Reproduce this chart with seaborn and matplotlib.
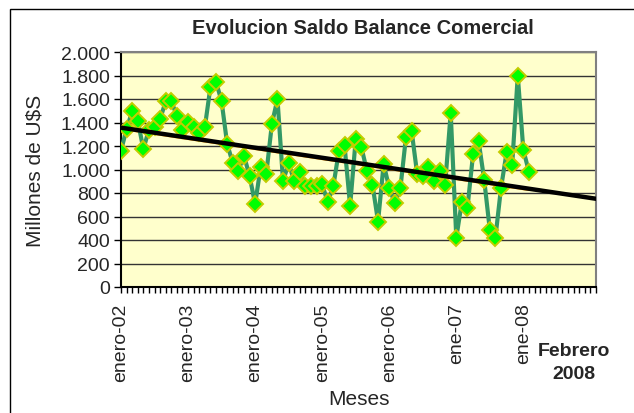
import numpy as np
import pandas as pd
import matplotlib
matplotlib.use("Agg")
import matplotlib.pyplot as plt
import matplotlib.transforms as mtransforms
from matplotlib.ticker import FuncFormatter, MultipleLocator
from matplotlib.patches import Rectangle
import seaborn as sns

# Monthly trade balance, Jan 2002 - Feb 2008 (millions of US$)
saldo_2002 = [1160, 1345, 1495, 1416, 1174, 1339, 1359, 1430, 1580, 1580, 1458, 1339]
saldo_2003 = [1407, 1359, 1311, 1359, 1700, 1748, 1580, 1217, 1055, 990, 1118, 947]
saldo_2004 = [706, 1024, 962, 1387, 1600, 900, 1055, 900, 981, 858, 858, 858]
saldo_2005 = [874, 721, 860, 1160, 1205, 692, 1257, 1193, 990, 871, 556, 1047]
saldo_2006 = [843, 712, 843, 1279, 1330, 962, 945, 1019, 905, 988, 872, 1481]
saldo_2007 = [420, 725, 676, 1130, 1240, 910, 486, 420, 842, 1145, 1040, 1800]
saldo_2008 = [1165, 981]

# Linear trend, extended one year beyond the last month
trend_x = [0, 85]
trend_y = [1356, 751]

tick_positions = [0, 12, 24, 36, 48, 60, 72]
tick_labels = ["enero-02", "enero-03", "enero-04", "enero-05", "enero-06", "ene-07", "ene-08"]

saldo = saldo_2002 + saldo_2003 + saldo_2004 + saldo_2005 + saldo_2006 + saldo_2007 + saldo_2008
df = pd.DataFrame({"mes": np.arange(len(saldo)), "saldo": saldo})
df_trend = pd.DataFrame({"mes": trend_x, "saldo": trend_y})
last = len(saldo) - 1
df_trend_obs = pd.DataFrame({"mes": [0, last],
                             "saldo": np.interp([0, last], trend_x, trend_y)})

sns.set_style("white", {"axes.facecolor": "#FFFFCC"})
plt.rcParams["font.family"] = ["Liberation Sans", "DejaVu Sans"]

W, H = 634, 414
fig = plt.figure(figsize=(W / 100, H / 100), dpi=100)
fig.patch.set_facecolor("white")

# outer chart frame
fig.add_artist(Rectangle((10 / W, -0.1), 1.2, 1 - 10 / H + 0.1,
                         transform=fig.transFigure, fill=False,
                         edgecolor="black", linewidth=1.0))

ax = fig.add_axes([121 / W, (H - 288) / H, 475 / W, 235 / H])
ax.set_facecolor("#FFFFCC")

# orange trend over the observed months, just under the black one
offset = mtransforms.ScaledTranslation(0, -1.5 / 100, fig.dpi_scale_trans)
sns.lineplot(data=df_trend_obs, x="mes", y="saldo", ax=ax, color="#FF9900",
             linewidth=1.2, transform=ax.transData + offset, zorder=3)

sns.lineplot(data=df, x="mes", y="saldo", ax=ax, color="#339966", linewidth=3.0,
             marker="D", markersize=8.5, markerfacecolor="#00FF00",
             markeredgecolor="#C4CC00", markeredgewidth=1.4, zorder=4)

sns.lineplot(data=df_trend, x="mes", y="saldo", ax=ax, color="black",
             linewidth=3.2, zorder=5)

ax.set_xlim(0, 85)
ax.set_ylim(0, 2000)
ax.yaxis.set_major_locator(MultipleLocator(200))
ax.yaxis.set_major_formatter(FuncFormatter(lambda v, p: f"{int(v):,}".replace(",", ".")))
ax.grid(axis="y", color="#333333", linewidth=1.0)
ax.set_axisbelow(True)

ax.set_xticks(tick_positions)
ax.set_xticklabels(tick_labels, rotation=90, fontsize=14)
ax.xaxis.set_minor_locator(MultipleLocator(1))
ax.tick_params(axis="x", which="both", direction="out", length=4, width=1,
               color="black", bottom=True, pad=7)
ax.tick_params(axis="y", which="major", direction="out", length=5, width=1,
               color="black", left=True, labelsize=14, pad=3)

for side in ("left", "bottom"):
    ax.spines[side].set_color("black")
    ax.spines[side].set_linewidth(1.5)
for side in ("top", "right"):
    ax.spines[side].set_visible(True)
    ax.spines[side].set_color("#808080")
    ax.spines[side].set_linewidth(1.5)

ax.set_xlabel("Meses", fontsize=15, labelpad=6)
ax.set_ylabel("Millones de U\\$S", fontsize=15, labelpad=12)

fig.text(363 / W, 1 - 28 / H, "Evolucion Saldo Balance Comercial",
         ha="center", va="center", fontsize=14.5, fontweight="bold")
fig.text(574 / W, 1 - 363 / H, "Febrero\n2008", ha="center", va="center",
         fontsize=14, fontweight="bold", linespacing=1.45)

fig.savefig("out.png", dpi=100)
